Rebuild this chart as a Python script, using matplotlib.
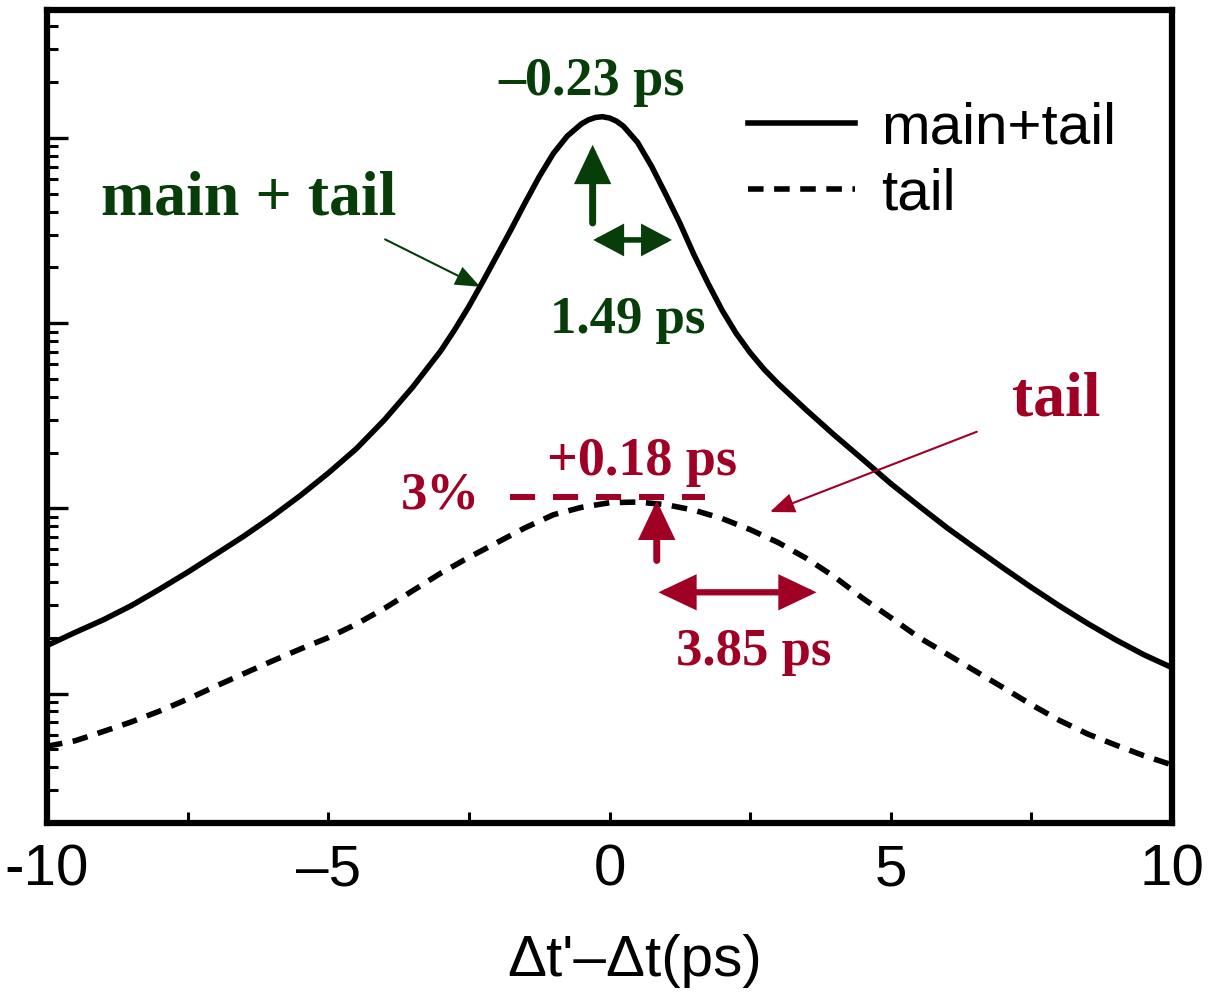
import numpy as np
import matplotlib
matplotlib.use('Agg')
import matplotlib.pyplot as plt
from matplotlib.ticker import LogLocator, NullFormatter, FixedLocator

# curves (x in ps, y in arbitrary units on a log scale)
x_main = [-10.0, -9.5, -9.0, -8.5, -8.0, -7.5, -7.0, -6.5, -6.0, -5.5,
          -5.0, -4.5, -4.0, -3.5, -3.0, -2.75, -2.5, -2.25, -2.0, -1.75,
          -1.5, -1.25, -1.0, -0.75, -0.5, -0.375, -0.25, -0.125, 0.0, 0.125,
          0.25, 0.5, 0.75, 1.0, 1.25, 1.5, 1.75, 2.0, 2.25, 2.5,
          2.75, 3.0, 3.5, 4.0, 4.5, 5.0, 5.5, 6.0, 6.5, 7.0,
          7.5, 8.0, 8.5, 9.0, 9.5, 10.0]
y_main = [1.816, 2.138, 2.500, 2.985, 3.656, 4.519, 5.649, 7.079, 9.016, 11.70,
          15.49, 20.99, 30.06, 45.08, 70.79, 92.3, 123.0, 167.9, 231.7, 319.9,
          446.7, 616.6, 822.2, 1023, 1189, 1250, 1288, 1300, 1279, 1230,
          1153, 944, 700, 495.5, 346.7, 234.4, 164.1, 117.5, 88.1, 69.2,
          56.2, 47.0, 33.9, 24.8, 18.4, 13.6, 10.3, 7.85, 6.10, 4.76,
          3.74, 2.97, 2.39, 1.95, 1.62, 1.38]

x_tail = [-10.0, -9.5, -9.0, -8.5, -8.0, -7.5, -7.0, -6.5, -6.0, -5.5,
          -5.0, -4.5, -4.0, -3.5, -3.0, -2.5, -2.0, -1.5, -1.0, -0.5,
          0.0, 0.5, 1.0, 1.5, 2.0, 2.5, 3.0, 3.5, 4.0, 4.5,
          5.0, 5.5, 6.0, 6.5, 7.0, 7.5, 8.0, 8.5, 9.0, 9.5, 10.0]
y_tail = [0.519, 0.556, 0.624, 0.703, 0.804, 0.933, 1.096, 1.282, 1.496, 1.738,
          2.004, 2.371, 2.884, 3.589, 4.467, 5.433, 6.531, 7.852, 9.226, 10.12,
          10.72, 10.81, 10.47, 9.772, 8.810, 7.674, 6.531, 5.370, 4.266, 3.273,
          2.570, 2.009, 1.633, 1.324, 1.076, 0.871, 0.716, 0.605, 0.527, 0.462, 0.412]

x_ticks = [-10, -5, 0, 5, 10]
x_ticklabels = ['-10', '\u20135', '0', '5', '10']
x_minor = [-7.5, -2.5, 2.5, 7.5]

green = '#063d09'
red = '#a10025'
serif = 'Liberation Serif'
sans = 'Liberation Sans'

fig = plt.figure(figsize=(12.12, 9.97), dpi=100)
ax = fig.add_axes([0.0388, 0.1745, 0.9282, 0.8155])

ax.plot(x_main, y_main, color='black', lw=4.0, label='main+tail',
        solid_joinstyle='round')
ax.plot(x_tail, y_tail, color='black', lw=4.0, ls=(0, (2.8, 1.9)), label='tail')

ax.set_yscale('log')
ax.set_xlim(-10, 10)
ax.set_ylim(0.2, 4900)
ax.yaxis.set_major_locator(LogLocator(base=10, numticks=20))
ax.yaxis.set_minor_locator(LogLocator(base=10, subs=np.arange(2, 10), numticks=20))
ax.yaxis.set_major_formatter(NullFormatter())
ax.yaxis.set_minor_formatter(NullFormatter())
ax.tick_params(axis='y', which='major', direction='in', length=15, width=2.4)
ax.tick_params(axis='y', which='minor', direction='in', length=8, width=2.2)

ax.set_xticks(x_ticks)
ax.set_xticklabels(x_ticklabels, fontsize=42, family=sans)
ax.xaxis.set_minor_locator(FixedLocator(x_minor))
ax.tick_params(axis='x', which='both', direction='in', length=8, width=2.2, pad=15)
for s in ax.spines.values():
    s.set_linewidth(4.5)

ax.set_xlabel("\u0394t'\u2013\u0394t(ps)", fontsize=42, family=sans)
ax.xaxis.set_label_coords(0.522, -0.136)

ax.legend(loc='upper left', bbox_to_anchor=(0.623, 0.887), frameon=False,
          prop=dict(family=sans, size=42), handlelength=1.84, handletextpad=0.45,
          labelspacing=0.2, borderpad=0, borderaxespad=0)


def arrow(tip, tail, color, lw, hl, hw, style='-|>'):
    ax.annotate('', xy=tip, xytext=tail,
                arrowprops=dict(arrowstyle=f'{style},head_length={hl},head_width={hw}',
                                color=color, lw=lw, shrinkA=0, shrinkB=0,
                                mutation_scale=1, joinstyle='miter'))


# main + tail annotations
ax.text(-6.41, 384, 'main + tail', color=green, fontsize=46, family=serif,
        weight='bold', ha='center', va='baseline')
arrow((-2.30, 157), (-3.99, 283), green, 1.5, 15, 6)
ax.text(-0.31, 1706, '\u20130.23 ps', color=green, fontsize=39, family=serif,
        weight='bold', ha='center', va='baseline')
arrow((-0.30, 917), (-0.30, 347), green, 5, 20, 9.5)
arrow((1.11, 281), (-0.29, 281), green, 4, 16, 8.5, style='<|-|>')
ax.text(0.33, 88.3, '1.49 ps', color=green, fontsize=38, family=serif,
        weight='bold', ha='center', va='baseline')

# tail annotations
ax.text(7.95, 31.8, 'tail', color=red, fontsize=46, family=serif,
        weight='bold', ha='center', va='baseline')
arrow((2.85, 9.55), (6.53, 25.9), red, 1.5, 15, 6)
ax.text(0.57, 15.1, '+0.18 ps', color=red, fontsize=39, family=serif,
        weight='bold', ha='center', va='baseline')
ax.text(-3.01, 9.95, '3%', color=red, fontsize=38, family=serif,
        weight='bold', ha='center', va='baseline')
ax.plot([-1.77, 1.70], [11.5, 11.5], color=red, lw=4.3, ls=(0, (4.2, 3)))
arrow((0.84, 11.0), (0.84, 5.23), red, 5, 20, 9.5)
arrow((3.68, 3.52), (0.87, 3.52), red, 4.5, 20, 9.5, style='<|-|>')
ax.text(2.57, 1.42, '3.85 ps', color=red, fontsize=38, family=serif,
        weight='bold', ha='center', va='baseline')

fig.savefig('out.png', dpi=100)
